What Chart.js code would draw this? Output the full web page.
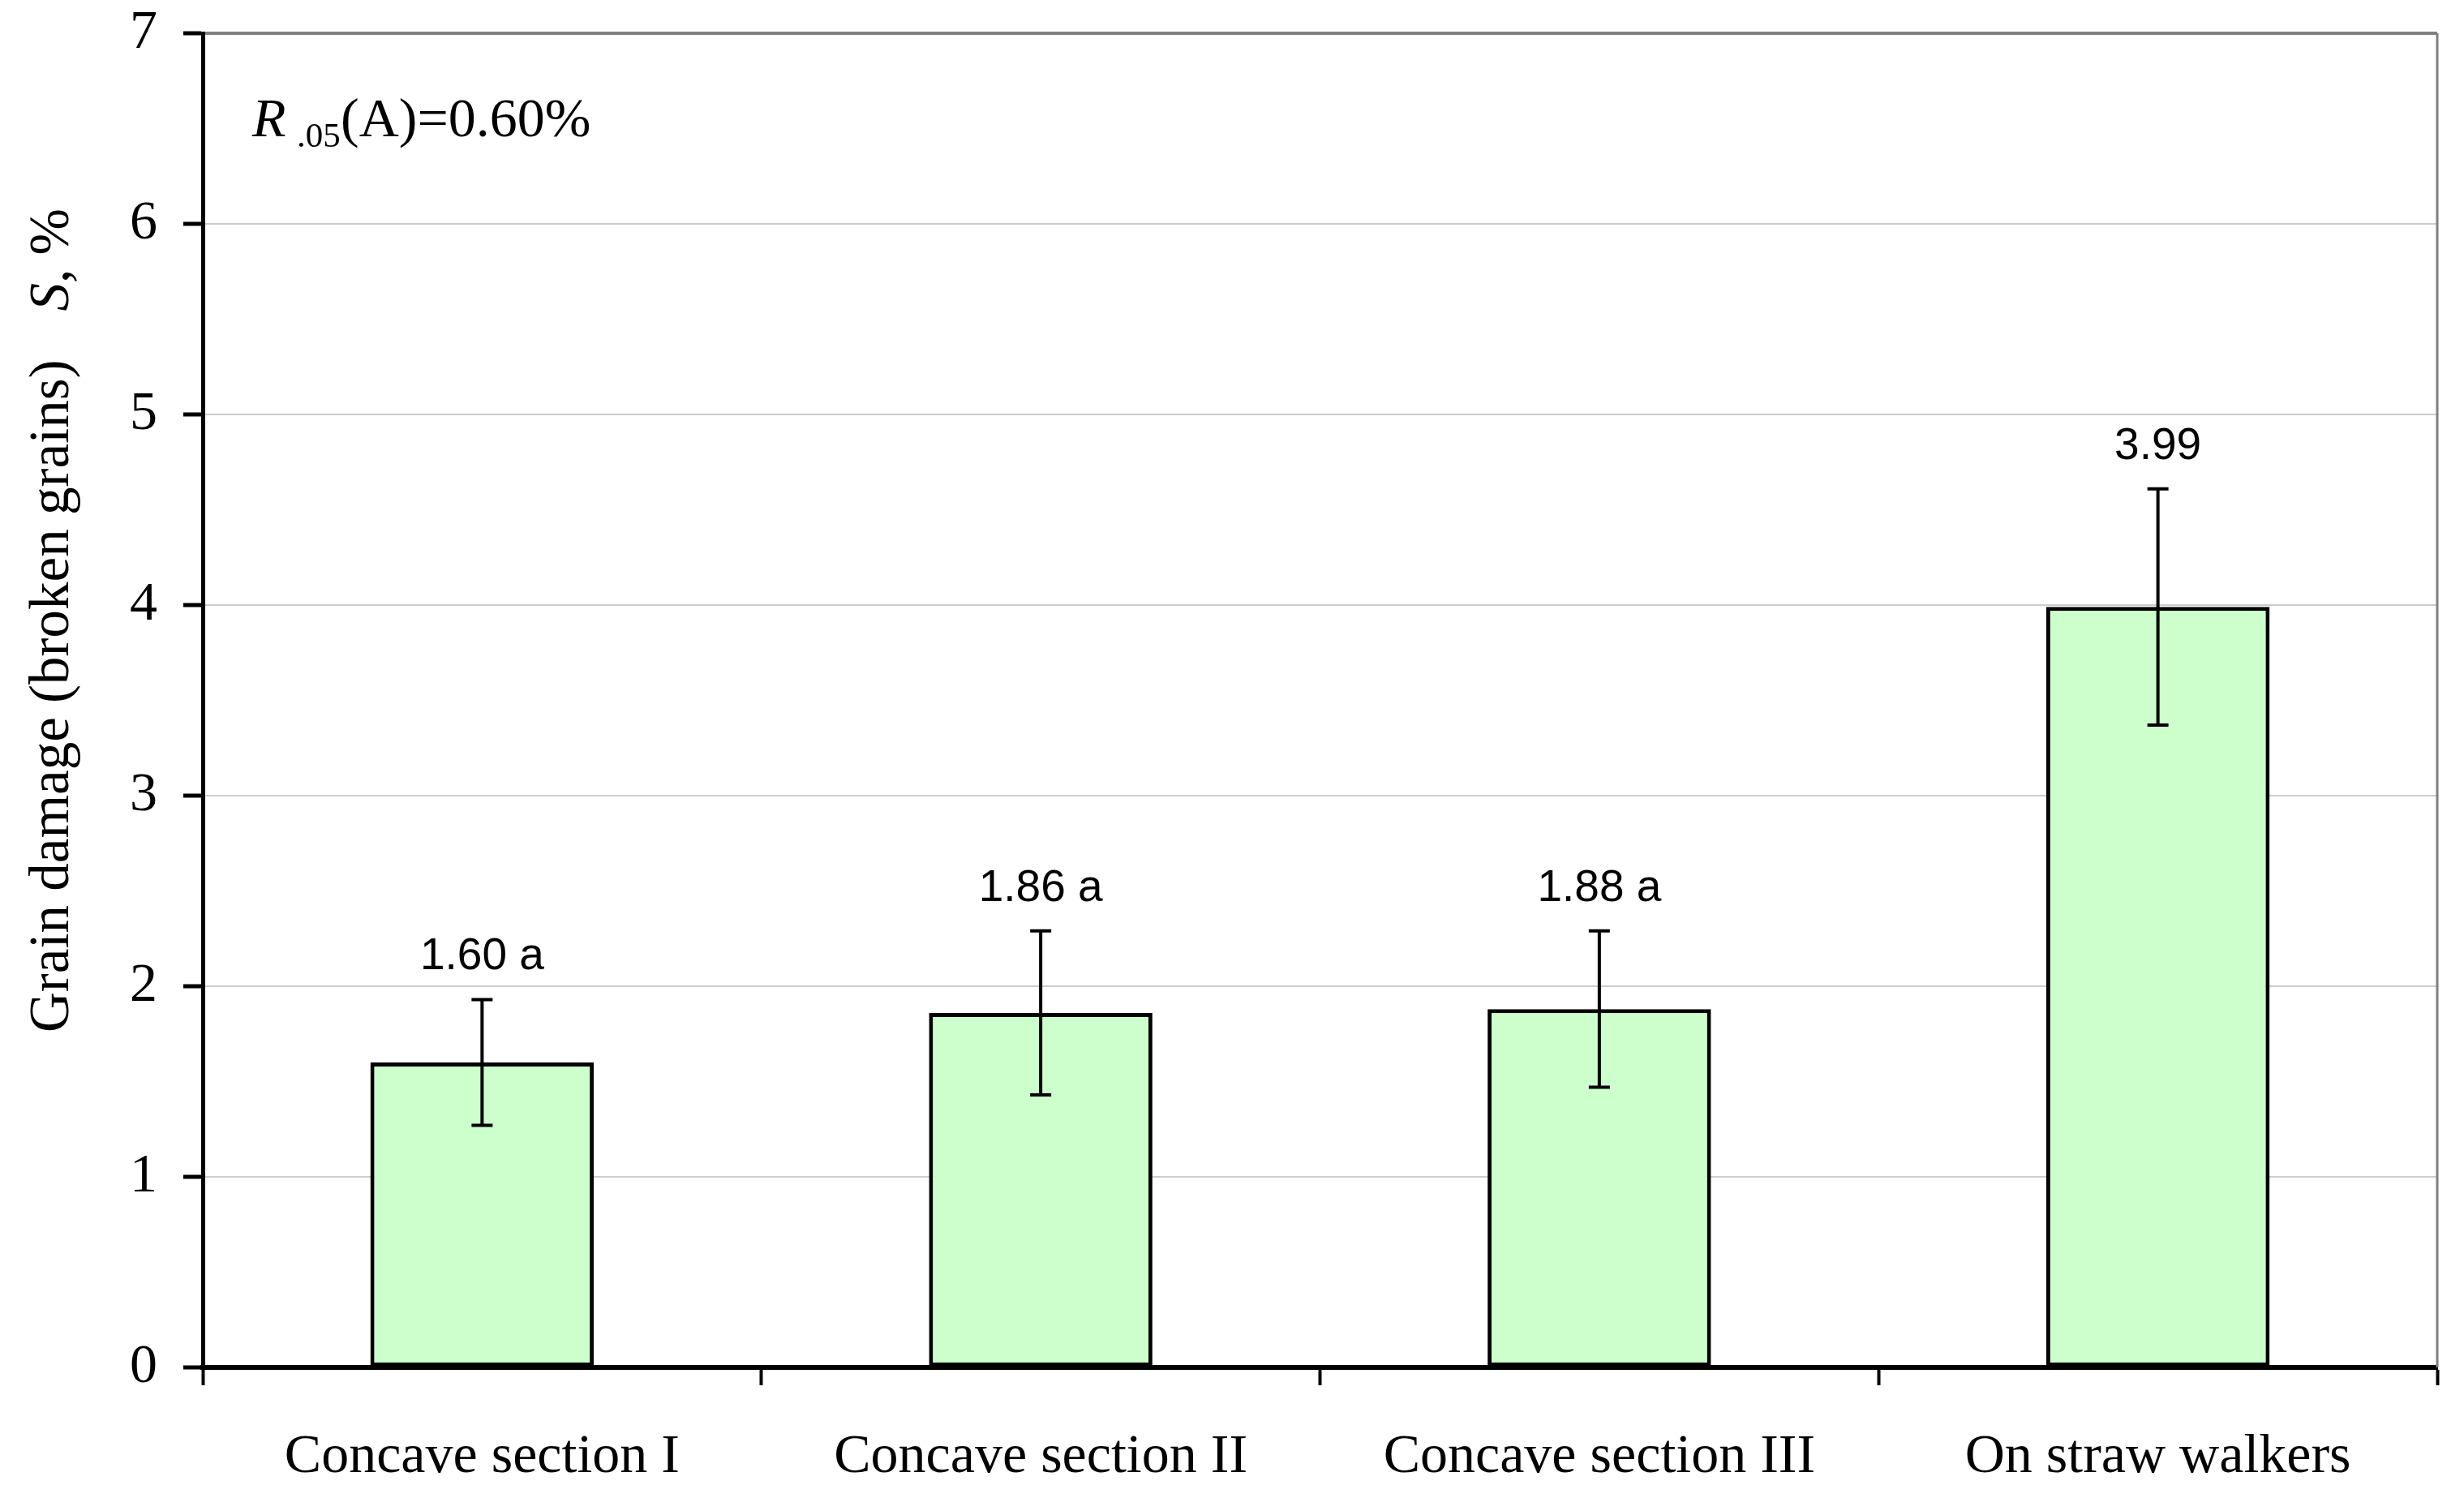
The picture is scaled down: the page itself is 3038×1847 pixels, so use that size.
<!DOCTYPE html>
<html>
<head>
<meta charset="utf-8">
<script src="https://cdn.jsdelivr.net/npm/chart.js@4.4.0/dist/chart.umd.min.js"></script>
<style>
  html, body { margin: 0; padding: 0; background: #fff; }
  #wrap { width: 3038px; height: 1847px; }
</style>
</head>
<body>
<div id="wrap"><canvas id="myCanvas" width="3038" height="1847"></canvas></div>
<script>
const categories = ["Concave section I", "Concave section II", "Concave section III", "On straw walkers"];
const damage = [1.60, 1.86, 1.88, 3.99];
const errors = [0.33, 0.43, 0.41, 0.62];
const groupLetters = ["a", "a", "a", ""];
const yTicks = [0, 1, 2, 3, 4, 5, 6, 7];

const serif = "'Liberation Serif', 'Times New Roman', serif";
const sans = "'Liberation Sans', Arial, sans-serif";

// error bars + value labels above them
const errorBars = {
  id: "errorBars",
  afterDatasetsDraw(chart) {
    const { ctx, scales: { y } } = chart;
    const meta = chart.getDatasetMeta(0);
    ctx.save();
    meta.data.forEach((bar, i) => {
      const top = y.getPixelForValue(damage[i] + errors[i]);
      const bot = y.getPixelForValue(damage[i] - errors[i]);
      ctx.strokeStyle = "#000";
      ctx.lineWidth = 4;
      ctx.beginPath();
      ctx.moveTo(bar.x, top); ctx.lineTo(bar.x, bot);
      ctx.moveTo(bar.x - 13, top); ctx.lineTo(bar.x + 13, top);
      ctx.moveTo(bar.x - 13, bot); ctx.lineTo(bar.x + 13, bot);
      ctx.stroke();

      const txt = damage[i].toFixed(2) + (groupLetters[i] ? " " + groupLetters[i] : "");
      ctx.fillStyle = "#000";
      ctx.font = `55px ${sans}`;
      ctx.textAlign = "center";
      ctx.textBaseline = "alphabetic";
      ctx.fillText(txt, bar.x, top - 37);
    });
    ctx.restore();
  }
};

// y title with italic S, R.05 note, gray frame on the right
const extras = {
  id: "extras",
  afterDraw(chart) {
    const { ctx, chartArea } = chart;
    ctx.save();

    ctx.strokeStyle = "#808080";
    ctx.lineWidth = 3;
    ctx.beginPath();
    ctx.moveTo(chartArea.right, chartArea.top);
    ctx.lineTo(chartArea.right, chartArea.bottom);
    ctx.stroke();

    ctx.fillStyle = "#000";
    ctx.textAlign = "left";

    // y axis title
    const main = "Grain damage (broken grains)";
    const gap = 60;
    ctx.translate(66, 765);
    ctx.rotate(-Math.PI / 2);
    ctx.textBaseline = "middle";
    ctx.font = `69px ${serif}`;
    const w1 = ctx.measureText(main).width;
    const w3 = ctx.measureText(", %").width;
    ctx.font = `italic 69px ${serif}`;
    const wS = ctx.measureText("S").width;
    let x = -(w1 + gap + wS + w3) / 2;
    ctx.font = `69px ${serif}`;
    ctx.fillText(main, x, 0);
    x += w1 + gap;
    ctx.font = `italic 69px ${serif}`;
    ctx.fillText("S", x, 0);
    x += wS;
    ctx.font = `69px ${serif}`;
    ctx.fillText(", %", x, 0);
    ctx.setTransform(1, 0, 0, 1, 0, 0);

    // note
    ctx.textBaseline = "alphabetic";
    ctx.font = `italic 68px ${serif}`;
    ctx.fillText("R", 311, 168);
    ctx.font = `43px ${serif}`;
    ctx.fillText(".05", 366, 181);
    ctx.font = `68px ${serif}`;
    ctx.fillText("(A)=0.60%", 420, 168);

    ctx.restore();
  }
};

const canvas = document.getElementById("myCanvas");
const chart = new Chart(canvas.getContext("2d"), {
  type: "bar",
  data: {
    labels: categories,
    datasets: [{
      label: "Grain damage",
      data: damage,
      backgroundColor: "#ccffcc",
      borderColor: "#000",
      borderWidth: 5,
      borderSkipped: false,
      barPercentage: 0.4,
      categoryPercentage: 1.0
    }]
  },
  options: {
    responsive: false,
    devicePixelRatio: 1,
    animation: false,
    layout: { padding: { top: 41, right: 33, bottom: 0, left: 0 } },
    plugins: { legend: { display: false }, tooltip: { enabled: false } },
    scales: {
      x: {
        grid: { drawOnChartArea: false, offset: true, tickColor: "#000", tickWidth: 4, tickLength: 22 },
        border: { color: "#000", width: 6 },
        ticks: { font: { family: serif, size: 68, lineHeight: 1 }, color: "#000", padding: 55, maxRotation: 0, autoSkip: false },
        afterFit: s => { s.height = 161; }
      },
      y: {
        min: 0,
        max: 7,
        afterBuildTicks: s => { s.ticks = yTicks.map(v => ({ value: v })); },
        grid: {
          color: c => (c.tick && c.tick.value === 7 ? "#808080" : "#cccccc"),
          lineWidth: c => (c.tick && c.tick.value === 7 ? 4 : 2),
          tickColor: "#000",
          tickWidth: 5,
          tickLength: 24
        },
        border: { color: "#000", width: 5 },
        ticks: { font: { family: serif, size: 68, lineHeight: 1 }, color: "#000", padding: 32 },
        afterFit: s => { s.width = 250; s.paddingTop = 0; s.paddingBottom = 0; }
      }
    }
  },
  plugins: [errorBars, extras]
});
</script>
</body>
</html>
